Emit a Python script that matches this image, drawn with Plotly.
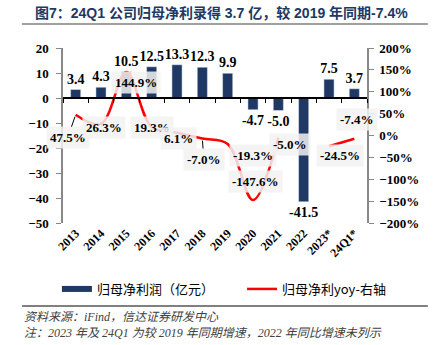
import plotly.graph_objects as go

categories = ["2013", "2014", "2015", "2016", "2017", "2018", "2019", "2020", "2021", "2022", "2023*", "24Q1*"]
profit = [3.4, 4.3, 10.5, 12.5, 13.3, 12.3, 9.9, -4.7, -5.0, -41.5, 7.5, 3.7]
yoy = [47.5, 26.3, 144.9, 19.3, 6.1, -7.0, -19.3, -147.6, -5.0, None, -24.5, -7.4]
# label offsets (px) for yoy labels: (xshift, yshift, leader)
yoy_label_pos = [(-8, -23, True), (3, -4, False), (10, -10, False), (0, 0, False), (1, -6, False),
                 (1.5, -21, True), (25, -12, False), (2, 19, False), (12, -7, False), None,
                 (11, -9, False), (3, 19, False)]

NAVY = "#1f3864"
RED = "#ff0000"
SERIF = "Liberation Serif, Times New Roman, serif"
CJK = "Noto Sans CJK SC, sans-serif"

xpos = list(range(len(categories)))

fig = go.Figure()
fig.add_trace(go.Bar(
    x=xpos, y=profit, marker_color=NAVY, width=0.4, showlegend=False,
    texttemplate="%{y:.1f}", textposition="outside", cliponaxis=False, constraintext="none",
    textfont=dict(family=SERIF, size=14, color="black", weight="bold"),
))
fig.add_trace(go.Scatter(
    x=xpos, y=yoy, yaxis="y2", mode="lines", line=dict(color=RED, width=2.5, shape="spline", smoothing=1),
    connectgaps=False, showlegend=False,
))
# legend proxies
fig.add_trace(go.Scatter(x=[None], y=[None], mode="lines", line=dict(color=NAVY, width=6),
                         name="归母净利润（亿元）", legend="legend"))
fig.add_trace(go.Scatter(x=[None], y=[None], mode="lines", line=dict(color=RED, width=2.5),
                         name="归母净利yoy-右轴", yaxis="y2", legend="legend2"))
# invisible trace so the zero-line axis with boundary ticks renders
fig.add_trace(go.Scatter(x=xpos, y=[0] * len(xpos), xaxis="x2", mode="none",
                         showlegend=False, hoverinfo="skip"))

annotations = []
for i, v, p in zip(xpos, yoy, yoy_label_pos):
    if v is None or p is None:
        continue
    dx, dy, leader = p
    a = dict(x=i, y=v, xref="x", yref="y2", text=f"{v:.1f}%",
             font=dict(family=SERIF, size=13, color="black", weight="bold"),
             bgcolor="rgba(242,242,242,0.85)", borderpad=3)
    if leader:
        a.update(showarrow=True, arrowhead=0, arrowwidth=1, arrowcolor="black", ax=dx, ay=-dy, standoff=2)
    else:
        a.update(showarrow=False, xshift=dx, yshift=dy)
    annotations.append(a)

annotations.append(dict(xref="paper", yref="paper", x=-0.10, y=1.2, xanchor="left", yanchor="middle",
                        text="<b>图7：24Q1 公司归母净利录得 3.7 亿，较 2019 年同期-7.4%</b>", showarrow=False,
                        font=dict(family="Liberation Sans, Arial, Noto Sans CJK SC", size=14, color="#203864")))
annotations.append(dict(xref="paper", yref="paper", x=-0.135, y=-0.537, xanchor="left", yanchor="middle",
                        text="<i>资料来源：iFind，信达证券研发中心</i>", showarrow=False,
                        font=dict(family="Liberation Serif, Noto Sans CJK SC", size=12, color="#404040")))
annotations.append(dict(xref="paper", yref="paper", x=-0.135, y=-0.63, xanchor="left", yanchor="middle",
                        text="<i>注：2023 年及 24Q1 为较 2019 年同期增速，2022 年同比增速未列示</i>", showarrow=False,
                        font=dict(family="Liberation Serif, Noto Sans CJK SC", size=12, color="#404040")))

xr = [-0.5, len(categories) - 0.5]
legend_common = dict(orientation="h", y=-0.377, xanchor="left", yanchor="middle",
                     bgcolor="rgba(0,0,0,0)", font=dict(family=CJK, size=13, color="black"))
fig.update_layout(
    width=434, height=345, margin=dict(l=63, r=67, t=48, b=122),
    paper_bgcolor="white", plot_bgcolor="white",
    xaxis=dict(range=xr, tickvals=xpos, ticktext=categories, showline=False, ticks="", tickangle=-45,
               showgrid=False, zeroline=False,
               tickfont=dict(family=SERIF, size=12, color="black", weight="bold")),
    xaxis2=dict(range=xr, overlaying="x", anchor="free", position=50 / 70, showticklabels=False,
                tickvals=[i - 0.5 for i in xpos] + [xpos[-1] + 0.5],
                showline=True, linecolor="black", linewidth=1.5, ticks="outside",
                ticklen=4, tickcolor="black", showgrid=False, zeroline=False),
    yaxis=dict(range=[-50, 20], dtick=10, showgrid=False, zeroline=False, showline=True,
               linecolor="#888888", linewidth=1.5, ticks="outside", ticklen=5, tickcolor="#888888",
               ticklabelstandoff=5,
               tickfont=dict(family=SERIF, size=13, color="black", weight="bold")),
    yaxis2=dict(range=[-200, 200], dtick=50, overlaying="y", side="right", showgrid=False, zeroline=False,
                showline=True, linecolor="#888888", linewidth=1.5, ticks="outside", ticklen=5,
                tickcolor="#888888", ticksuffix="%", ticklabelstandoff=3,
                tickfont=dict(family=SERIF, size=13, color="black", weight="bold")),
    legend=dict(x=-0.02, **legend_common),
    legend2=dict(x=0.589, **legend_common),
    annotations=annotations,
    shapes=[
        dict(type="line", xref="paper", yref="paper", x0=-0.135, x1=1.2, y0=1.137, y1=1.137,
             line=dict(color="#808080", width=1.5)),
        dict(type="line", xref="paper", yref="paper", x0=-0.135, x1=1.2, y0=-0.474, y1=-0.474,
             line=dict(color="#808080", width=2)),
    ],
)
fig.write_html("out.html")
